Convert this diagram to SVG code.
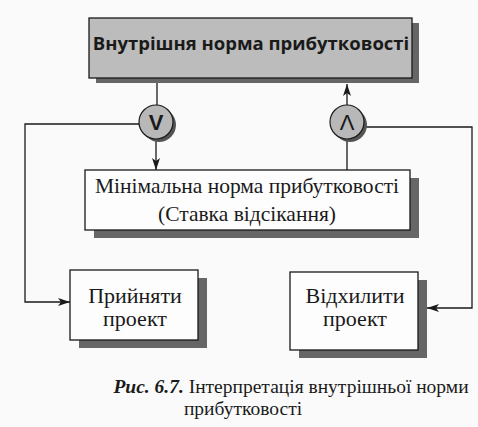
<svg xmlns="http://www.w3.org/2000/svg" width="478" height="427" viewBox="0 0 478 427">
<defs>
<style>
.ln{fill:none;stroke:#1a1a1a;stroke-width:1.3}
.box{fill:#fdfdfd;stroke:#1a1a1a;stroke-width:1.3}
.sh{fill:#666}
.serif{font-family:"Liberation Serif","Times New Roman",serif;fill:#1a1a1a}
.lab{font-size:22px;text-anchor:middle}
.mid{font-size:21.5px;text-anchor:middle}
</style>
<marker id="arr" viewBox="0 0 12 8" refX="12" refY="4" markerWidth="12" markerHeight="8" markerUnits="userSpaceOnUse" orient="auto">
<path d="M0,0 L12,4 L0,8 L3,4 Z" fill="#1a1a1a"/>
</marker>
</defs>
<rect width="478" height="427" fill="#fafafa"/>

<g id="connectors">
<line class="ln" x1="157" y1="78" x2="157" y2="105"/>
<line class="ln" x1="156" y1="139" x2="156" y2="170" marker-end="url(#arr)"/>
<polyline class="ln" points="139,124 25,124 25,302 70,302" marker-end="url(#arr)"/>
<line class="ln" x1="347" y1="105" x2="347" y2="84" marker-end="url(#arr)"/>
<line class="ln" x1="347" y1="139" x2="347" y2="170"/>
<polyline class="ln" points="364,127 472,127 472,308 427,308" marker-end="url(#arr)"/>
</g>

<g id="irr">
<rect class="sh" x="96" y="23" width="323" height="60"/>
<rect x="89" y="18" width="323" height="60" fill="#bcbcbc" stroke="#1a1a1a" stroke-width="1.3"/>
<text x="251" y="50" font-family="'Open Sans','DejaVu Sans',sans-serif" font-weight="bold" font-size="18.5" text-anchor="middle" fill="#1a1a1a">Внутрішня норма прибутковості</text>
</g>

<g id="gt">
<circle cx="159" cy="125" r="17" fill="#555"/>
<circle cx="156" cy="122" r="17" fill="#b8b8b8" stroke="#1a1a1a" stroke-width="1.2"/>
<text x="156" y="130" font-family="'Liberation Sans',sans-serif" font-weight="bold" font-size="22" text-anchor="middle" fill="#1a1a1a">V</text>
</g>

<g id="lt">
<circle cx="350" cy="125" r="17" fill="#555"/>
<circle cx="347" cy="122" r="17" fill="#b8b8b8" stroke="#1a1a1a" stroke-width="1.2"/>
<text x="347" y="130" font-family="'Liberation Sans',sans-serif" font-size="22" text-anchor="middle" fill="#1a1a1a">Λ</text>
</g>

<g id="hurdle">
<rect class="sh" x="94" y="178" width="325" height="60"/>
<rect class="box" x="85" y="170" width="325" height="60"/>
<text class="serif mid" x="247" y="193">Мінімальна норма прибутковості</text>
<text class="serif mid" x="247" y="221">(Ставка відсікання)</text>
</g>

<g id="accept">
<rect class="sh" x="79" y="278" width="128" height="70"/>
<rect class="box" x="70" y="270" width="128" height="70"/>
<text class="serif lab" x="135" y="303">Прийняти</text>
<text class="serif lab" x="135" y="326">проект</text>
</g>

<g id="reject">
<rect class="sh" x="299" y="280" width="128" height="78"/>
<rect class="box" x="290" y="272" width="128" height="78"/>
<text class="serif lab" x="355" y="303">Відхилити</text>
<text class="serif lab" x="355" y="326">проект</text>
</g>

<g id="caption">
<text class="serif" x="291" y="393" font-size="19.5" text-anchor="middle"><tspan font-weight="bold" font-style="italic">Рис. 6.7.</tspan> Інтерпретація внутрішньої норми</text>
<text class="serif" x="243" y="415" font-size="19.5" text-anchor="middle">прибутковості</text>
</g>
</svg>
